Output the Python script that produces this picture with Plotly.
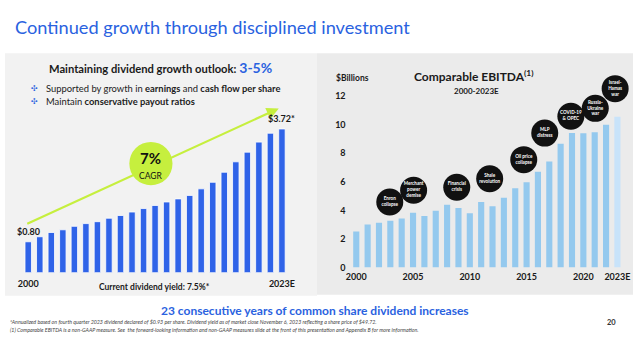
import plotly.graph_objects as go

W, H = 640, 343

# ---------------- data ----------------
div_years = ["2000", "2001", "2002", "2003", "2004", "2005", "2006", "2007", "2008",
             "2009", "2010", "2011", "2012", "2013", "2014", "2015", "2016", "2017",
             "2018", "2019", "2020", "2021", "2023E"]
dividends = [0.80, 0.93, 1.04, 1.11, 1.20, 1.27, 1.32, 1.41, 1.48, 1.57, 1.66, 1.74,
             1.83, 1.91, 2.00, 2.17, 2.34, 2.60, 2.87, 3.12, 3.38, 3.61, 3.72]
div_labels = ["$0.80", "$3.72*"]

ebitda_years = [2000, 2001, 2002, 2003, 2004, 2005, 2006, 2007, 2008, 2009, 2010, 2011,
                2012, 2013, 2014, 2015, 2016, 2017, 2018, 2019, 2020, 2021, 2022, 2023]
ebitda = [2.52, 3.02, 3.14, 3.28, 3.44, 3.83, 3.60, 3.97, 4.40, 4.17, 3.80, 4.59,
          4.29, 4.88, 5.55, 5.97, 6.70, 7.43, 8.66, 9.41, 9.39, 9.46, 9.99, 10.56]
ebitda_ticks = [2000, 2005, 2010, 2015, 2020, 2023]
ebitda_ticktext = ["2000", "2005", "2010", "2015", "2020", "2023E"]

event_labels = ["Enron<br>collapse", "Merchant<br>power<br>demise", "Financial<br>crisis",
                "Shale<br>revolution", "Oil price<br>collapse", "MLP<br>distress",
                "COVID-19<br>& OPEC", "Russia-<br>Ukraine<br>war", "Israel-<br>Hamas<br>war"]
event_x = [2002.95, 2005.05, 2008.85, 2011.75, 2014.75, 2016.6, 2018.9, 2021.05, 2022.8]
event_y = [4.59, 5.41, 5.62, 6.21, 7.55, 9.41, 10.59, 11.14, 12.52]

# ---------------- helpers ----------------
def px(x):
    return x / W


def py(y):
    return 1 - y / H


FONT = "Lato"
BLUE = "#2a62e0"
DARK = "#1a1a1a"

fig = go.Figure()

# left: dividends
fig.add_trace(go.Bar(
    x=div_years, y=dividends, xaxis="x", yaxis="y",
    marker=dict(color="#2f63e8", line=dict(color="#ffffff", width=0.8)),
    width=0.56, showlegend=False, hoverinfo="x+y",
))

# right: EBITDA
bar_colors = ["#94c9ee"] * (len(ebitda) - 1) + ["#c8e3fa"]
fig.add_trace(go.Bar(
    x=ebitda_years, y=ebitda, xaxis="x2", yaxis="y2",
    marker=dict(color=bar_colors, line=dict(width=0)),
    width=0.54, showlegend=False, hoverinfo="x+y",
))

fig.add_trace(go.Scatter(
    x=event_x, y=event_y, xaxis="x2", yaxis="y2",
    mode="markers+text", text=event_labels, textposition="middle center",
    textfont=dict(family=FONT, size=4.6, color="#ffffff", weight="bold"),
    marker=dict(size=27, color="#111111", line=dict(width=0)),
    cliponaxis=False, showlegend=False, hoverinfo="text",
))

shapes = [
    dict(type="rect", xref="paper", yref="paper", x0=px(0), x1=px(318),
         y0=py(300), y1=py(54), fillcolor="#f2f2f2", line=dict(width=0), layer="below"),
    dict(type="rect", xref="paper", yref="paper", x0=px(318), x1=px(640),
         y0=py(299), y1=py(54), fillcolor="#ebebeb", line=dict(width=0), layer="below"),
    dict(type="circle", xref="paper", yref="paper", x0=px(126.7), x1=px(170.7),
         y0=py(188), y1=py(144), fillcolor="#c6ef3e", line=dict(width=0), layer="above"),
]

ann = []


def txt(x, y, s, size, color=DARK, bold=False, xanchor="center", italic=False, family=FONT):
    ann.append(dict(
        xref="paper", yref="paper", x=px(x), y=py(y), text=s, showarrow=False,
        xanchor=xanchor, yanchor="middle",
        font=dict(family=family, size=size, color=color,
                  weight="bold" if bold else "normal",
                  style="italic" if italic else "normal"),
    ))


# title
txt(8, 27, "Continued growth through disciplined investment", 18.2, color=BLUE, xanchor="left")

# left panel texts
txt(43, 69, "<b>Maintaining dividend growth outlook:</b> "
            "<span style='color:%s;font-size:14px'><b>3-5%%</b></span>" % BLUE, 11.2, xanchor="left")
txt(24, 90, "<span style='color:%s'>✣</span>" % BLUE, 8, xanchor="left", family="DejaVu Sans")
txt(24, 103, "<span style='color:%s'>✣</span>" % BLUE, 8, xanchor="left", family="DejaVu Sans")
txt(40, 90, "Supported by growth in <b>earnings</b> and <b>cash flow per share</b>", 9.4, color="#222222", xanchor="left")
txt(40, 103, "Maintain <b>conservative payout ratios</b>", 9.4, color="#222222", xanchor="left")

# growth arrow
ann.append(dict(
    xref="paper", yref="paper", x=px(279), y=py(110), ax=-253, ay=116,
    axref="pixel", ayref="pixel", text="", showarrow=True,
    arrowhead=2, arrowsize=1.1, arrowwidth=2.2, arrowcolor="#c6ef3e",
))

txt(148.7, 160, "<b>7%</b>", 15, color="#111111")
txt(148.7, 179, "CAGR", 8.5, color="#111111")

# data labels on dividend bars (category index positions)
ann.append(dict(x=0, y=dividends[0], xref="x", yref="y", text="<b>%s</b>" % div_labels[0],
                showarrow=False, yanchor="bottom", yshift=3,
                font=dict(family=FONT, size=9, color=DARK)))
ann.append(dict(x=len(dividends) - 1, y=dividends[-1], xref="x", yref="y",
                text="<b>%s</b>" % div_labels[1],
                showarrow=False, yanchor="bottom", yshift=3,
                font=dict(family=FONT, size=9, color=DARK)))

txt(152.5, 291, "<b>Current dividend yield: 7.5%*</b>", 8.5)

# right panel texts
txt(335, 79, "<b>$Billions</b>", 8.5, xanchor="left")
txt(478, 77, "<b>Comparable EBITDA<sup>(1)</sup></b>", 12)
txt(480, 92.5, "<b>2000-2023E</b>", 8)

# bottom
txt(316, 315.5, "<b>23 consecutive years of common share dividend increases</b>", 12, color=BLUE)
txt(3, 326.5, "*Annualized based on fourth quarter 2023 dividend declared of $0.93 per share. Dividend yield as of market close "
              "November 6, 2023 reflecting a share price of $49.72.", 5.3, color="#444444", xanchor="left", italic=True)
txt(3, 335, "(1) Comparable EBITDA is a non-GAAP measure. See  the forward-looking information and non-GAAP measures slide "
            "at the front of this presentation and Appendix B for more information.", 5.3, color="#444444",
    xanchor="left", italic=True)
txt(618, 327, "<b>20</b>", 7.5, color="#333333")

fig.update_layout(
    width=W, height=H, margin=dict(l=0, r=0, t=0, b=0),
    paper_bgcolor="#ffffff", plot_bgcolor="rgba(0,0,0,0)",
    font=dict(family=FONT, color=DARK),
    shapes=shapes, annotations=ann, bargap=0.45,
    xaxis=dict(domain=[px(17.8), px(288.1)], range=[-0.5, 22.5], type="category",
               tickvals=[div_years[0], div_years[-1]], ticktext=["2000", "2023E"],
               tickfont=dict(family=FONT, size=9, color=DARK, weight="bold"),
               ticklabelstandoff=4,
               showgrid=False, zeroline=False, showline=False, ticks="", fixedrange=True,
               anchor="y"),
    yaxis=dict(domain=[py(276.7), py(100.3)], range=[0, 4.5], visible=False, fixedrange=True,
               anchor="x"),
    xaxis2=dict(domain=[px(352.2), px(629.9)], range=[1999.5, 2023.5],
                tickvals=ebitda_ticks, ticktext=ebitda_ticktext,
                tickfont=dict(family=FONT, size=9, color=DARK, weight="bold"),
                ticklabelstandoff=2,
                showgrid=False, zeroline=False, showline=False, ticks="", anchor="y2",
                fixedrange=True),
    yaxis2=dict(domain=[py(271.5), py(83)], range=[0, 13], tickvals=[0, 2, 4, 6, 8, 10, 12],
                tickfont=dict(family=FONT, size=9, color=DARK, weight="bold"),
                ticklabelstandoff=4,
                showgrid=False, zeroline=False, showline=False, ticks="", anchor="x2",
                fixedrange=True),
)

fig.write_html("out.html")
